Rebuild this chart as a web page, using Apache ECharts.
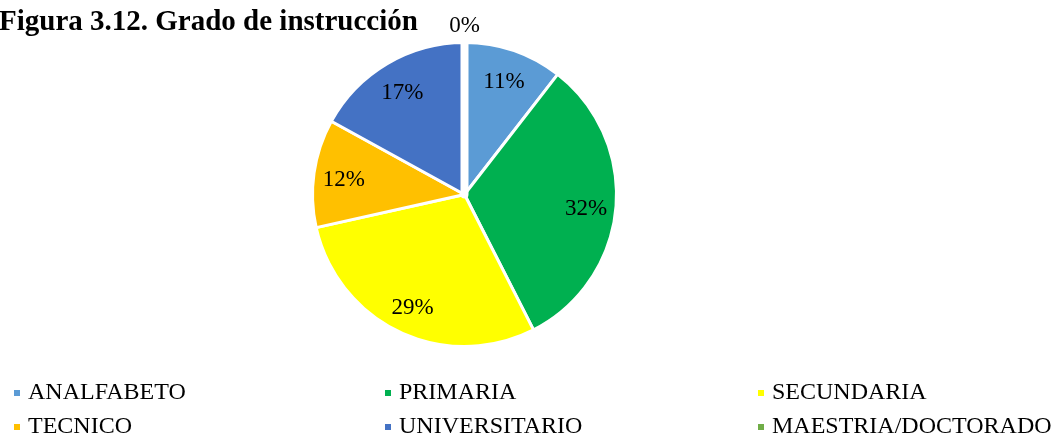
<!DOCTYPE html>
<html>
<head>
<meta charset="utf-8">
<script src="https://cdn.jsdelivr.net/npm/echarts@6/dist/echarts.min.js"></script>
<style>
  html, body { margin: 0; padding: 0; background: #fff; }
  #chart { width: 1054px; height: 437px; }
</style>
</head>
<body>
<div id="chart"></div>
<script>
// Grado de instrucción (conteos aproximados)
var categories = ["ANALFABETO", "PRIMARIA", "SECUNDARIA", "TECNICO", "UNIVERSITARIO", "MAESTRIA/DOCTORADO"];
var counts = [21, 64, 58, 23, 34, 0];
var colors = ["#5B9BD5", "#00B050", "#FFFF00", "#FFC000", "#4472C4", "#70AD47"];

var total = counts.reduce(function (a, b) { return a + b; }, 0);
var font = "'Liberation Serif', 'Times New Roman', serif";

function pct(v) {
    return Math.round(v / total * 100) + "%";
}

var chart = echarts.init(document.getElementById("chart"));

var pieData = categories.map(function (name, i) {
    var it = { name: name, value: counts[i], itemStyle: { color: colors[i] } };
    if (counts[i] === 0) {
        it.itemStyle.borderWidth = 8; // hueco blanco de la porción vacía
    }
    return it;
});
// anillo invisible para poner las etiquetas interiores a ~0.79 del radio
var innerLabels = categories.map(function (name, i) {
    return { name: name, value: counts[i], label: { show: counts[i] !== 0 } };
});
// anillo exterior solo para la etiqueta del 0%
var outerLabels = categories.map(function (name, i) {
    return { name: name, value: counts[i], label: { show: counts[i] === 0 } };
});

var center = [464.5, 194.5];
// 3 columnas x 2 filas
var legendX = [7, 378, 751];
var legendY = [376, 410];

var ringLabel = {
    position: "inside",
    formatter: function (p) { return pct(p.value); },
    fontFamily: font, fontSize: 23, color: "#000",
    offset: [0, 3]
};

var option = {
    animation: false,
    color: colors,
    title: {
        text: "Figura 3.12. Grado de instrucción",
        left: -6,
        top: 3,
        textStyle: { fontFamily: font, fontSize: 29, fontWeight: "bold", color: "#000" }
    },
    legend: categories.map(function (name, i) {
        return {
            left: legendX[i % 3],
            top: legendY[Math.floor(i / 3)],
            icon: "rect",
            itemWidth: 8,
            itemHeight: 8,
            selectedMode: false,
            data: [name],
            textStyle: { fontFamily: font, fontSize: 24, lineHeight: 24, color: "#000", padding: [0, 0, 0, 2] }
        };
    }),
    series: [{
        type: "pie",
        center: center,
        radius: [0, 152],
        startAngle: 90,
        clockwise: true,
        avoidLabelOverlap: false,
        silent: true,
        label: { show: false },
        labelLine: { show: false },
        itemStyle: { borderColor: "#fff", borderWidth: 3 },
        data: pieData
    }, {
        type: "pie",
        center: center,
        radius: [86, 152],
        startAngle: 90,
        clockwise: true,
        silent: true,
        legendHoverLink: false,
        avoidLabelOverlap: false,
        itemStyle: { color: "transparent", borderWidth: 0 },
        label: ringLabel,
        labelLine: { show: false },
        data: innerLabels
    }, {
        type: "pie",
        center: center,
        radius: [152, 186],
        startAngle: 90,
        clockwise: true,
        silent: true,
        legendHoverLink: false,
        avoidLabelOverlap: false,
        itemStyle: { color: "transparent", borderWidth: 0 },
        label: ringLabel,
        labelLine: { show: false },
        data: outerLabels
    }]
};
chart.setOption(option);
</script>
</body>
</html>
